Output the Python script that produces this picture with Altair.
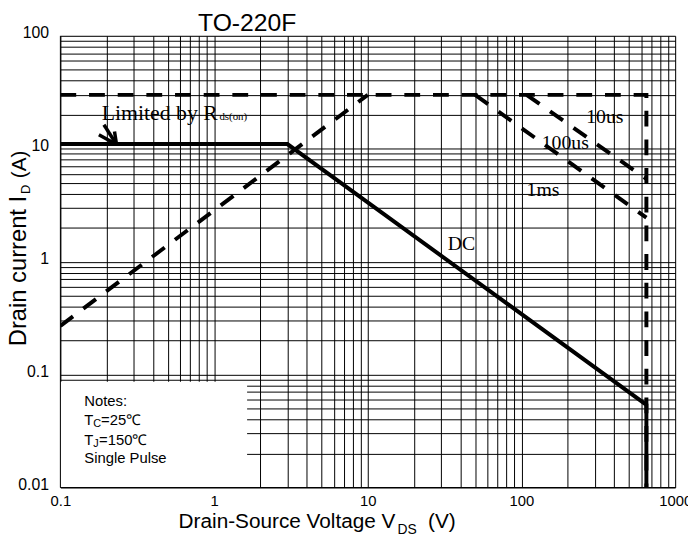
import altair as alt
import pandas as pd

# ---------------- data ----------------
# grid / tick positions
x_grid = [m * 10.0 ** e for e in (-1, 0, 1, 2) for m in range(1, 10)] + [1000.0]
y_grid = [m * 10.0 ** e for e in (-2, -1, 0, 1) for m in range(1, 10)] + [100.0]
x_labels = [0.1, 1, 10, 100, 1000]
y_labels = [0.01, 0.1, 1, 10, 100]

# pulse current limit (dashed) : horizontal at 30 A, vertical at BVdss
idm_v = [0.1, 650, 650]
idm_i = [30, 30, 0.01]
# Rds(on) limit (dashed)
rds_v = [0.1, 10]
rds_i = [0.27, 30]
# 10us / 100us lines (dashed)
us10_v = [108, 650]
us10_i = [30, 5.4]
us100_v = [50, 650]
us100_i = [30, 2.45]
# DC line (solid)
dc_v = [0.1, 3.0, 650, 650]
dc_i = [11, 11, 0.054, 0.01]

# arrow of "Limited by Rds(on)"
arrow_tip = (0.232, 10.9)
arrow_v = [0.192, 0.225, 0.178]
arrow_i = [16.3, 14.2, 13.3]

# notes box
box_v = [0.1, 1.64]
box_i = [0.01, 0.0865]

# curve labels
curve_text = ["10us", "100us", "1ms", "DC"]
curve_v = [263.6, 135.5, 108, 33.2]
curve_i = [17.0, 10.0, 3.82, 1.26]
lim_text = ["Limited by R", "ds(on)"]
lim_v = 0.186
lim_i = 18.0

notes_v = 0.143
notes_i = [0.0524, 0.0358, 0.0238, 0.0165]

W, H = 622, 457
xs = alt.Scale(type="log", domain=[0.1, 1000], nice=False)
ys = alt.Scale(type="log", domain=[0.01, 100], nice=False)

label_expr_x = "indexof([0.1, 1, 10, 100, 1000], datum.value) >= 0 ? format(datum.value, '') : ''"
label_expr_y = "indexof([0.01, 0.1, 1, 10, 100], datum.value) >= 0 ? format(datum.value, '') : ''"

x_axis = alt.Axis(values=x_grid, labelExpr=label_expr_x, grid=True, gridColor="black",
                  gridWidth=1, gridOpacity=1, ticks=False, domain=False,
                  labelFontSize=15, labelFont="Liberation Sans", labelColor="black",
                  labelPadding=6, title=None, labelFlush=False, labelOverlap=False)
y_axis = alt.Axis(values=y_grid, labelExpr=label_expr_y, grid=True, gridColor="black",
                  gridWidth=1, gridOpacity=1, ticks=False, domain=False,
                  labelFontSize=16, labelFont="Liberation Sans", labelColor="black",
                  labelPadding=12, labelOffset=-3, title=None, labelOverlap=False)

X = alt.X("v:Q", scale=xs, axis=x_axis)
Y = alt.Y("i:Q", scale=ys, axis=y_axis)


def series_df(v, i):
    return pd.DataFrame({"v": v, "i": i, "k": list(range(len(v)))})


def curve(v, i, dash=None, width=4):
    kw = dict(color="black", strokeWidth=width, clip=True)
    if dash:
        kw["strokeDash"] = dash
    return alt.Chart(series_df(v, i)).mark_line(**kw).encode(x=X, y=Y, order="k:Q")


def label(text, v, i, size, font="Liberation Serif", align="left", dx=0, dy=0):
    df = pd.DataFrame({"t": [text], "v": [v], "i": [i]})
    return alt.Chart(df).mark_text(align=align, baseline="alphabetic", fontSize=size,
                                   font=font, dx=dx, dy=dy, color="black").encode(
        x=X, y=Y, text="t:N")


def ptext(text, px, py, size, font="Liberation Sans", align="left", angle=0):
    df = pd.DataFrame({"t": [text]})
    return alt.Chart(df).mark_text(align=align, baseline="alphabetic", fontSize=size,
                                   font=font, angle=angle, color="black").encode(
        x=alt.value(px), y=alt.value(py), text="t:N")


# white notes box
box = alt.Chart(pd.DataFrame({"v": [box_v[0]], "v2": [box_v[1]],
                              "i": [box_i[0]], "i2": [box_i[1]]})).mark_rect(
    fill="white").encode(x=X, x2="v2:Q", y=Y, y2="i2:Q")

border_left = alt.Chart(pd.DataFrame({"v": [0.1], "i": [0.01], "i2": [100]})).mark_rule(
    color="black", strokeWidth=1).encode(x=X, y=Y, y2="i2:Q")
border_bottom = alt.Chart(pd.DataFrame({"v": [0.1], "v2": [1000], "i": [0.01]})).mark_rule(
    color="black", strokeWidth=1).encode(x=X, x2="v2:Q", y=Y)

dash = [16, 13]
layers = [
    box, border_left, border_bottom,
    curve(idm_v, idm_i, dash),
    curve(rds_v, rds_i, dash),
    curve(us10_v, us10_i, dash),
    curve(us100_v, us100_i, dash),
    curve(dc_v, dc_i, None),
]

arrow_rows = []
for s, (av, ai) in enumerate(zip(arrow_v, arrow_i)):
    arrow_rows.append({"s": s, "k": 0, "v": av, "i": ai})
    arrow_rows.append({"s": s, "k": 1, "v": arrow_tip[0], "i": arrow_tip[1]})
layers.append(alt.Chart(pd.DataFrame(arrow_rows)).mark_line(color="black", strokeWidth=3.5).encode(
    x=X, y=Y, detail="s:N", order="k:Q"))

for t, v, i in zip(curve_text, curve_v, curve_i):
    layers.append(label(t, v, i, 20))
layers.append(label(lim_text[0], lim_v, lim_i, 22))
layers.append(label(lim_text[1], lim_v, lim_i, 11, dx=119))

# notes
layers.append(label("Notes:", notes_v, notes_i[0], 15, font="Liberation Sans"))
layers.append(label("T", notes_v, notes_i[1], 15, font="Liberation Sans"))
layers.append(label("C", notes_v, notes_i[1], 11, font="Liberation Sans", dx=9, dy=2))
layers.append(label("=25℃", notes_v, notes_i[1], 15, font="Liberation Sans", dx=17))
layers.append(label("T", notes_v, notes_i[2], 15, font="Liberation Sans"))
layers.append(label("J", notes_v, notes_i[2], 11, font="Liberation Sans", dx=9, dy=2))
layers.append(label("=150℃", notes_v, notes_i[2], 15, font="Liberation Sans", dx=15))
layers.append(label("Single Pulse", notes_v, notes_i[3], 15, font="Liberation Sans"))

# titles (pixel positions relative to plot area)
layers.append(ptext("TO-220F", 189, -5, 25, align="center"))
layers.append(ptext("Drain-Source Voltage V", 339, 498, 21, align="right"))
layers.append(ptext("DS", 341, 504, 14))
layers.append(ptext("(V)", 372, 498, 21))
layers.append(ptext("Drain current I", -35, 314, 24, angle=270))
layers.append(ptext("D", -31, 160, 13, angle=270))
layers.append(ptext("(A)", -35, 144, 21, angle=270))

chart = alt.layer(*layers).properties(
    width=W, height=H,
    autosize=alt.AutoSizeParams(type="none"),
    padding={"left": 53, "top": 25, "right": 13, "bottom": 52},
).configure_view(stroke="black", strokeWidth=1).configure(background="white")

chart.save("out.html", embed_options={"renderer": "svg", "actions": False})
